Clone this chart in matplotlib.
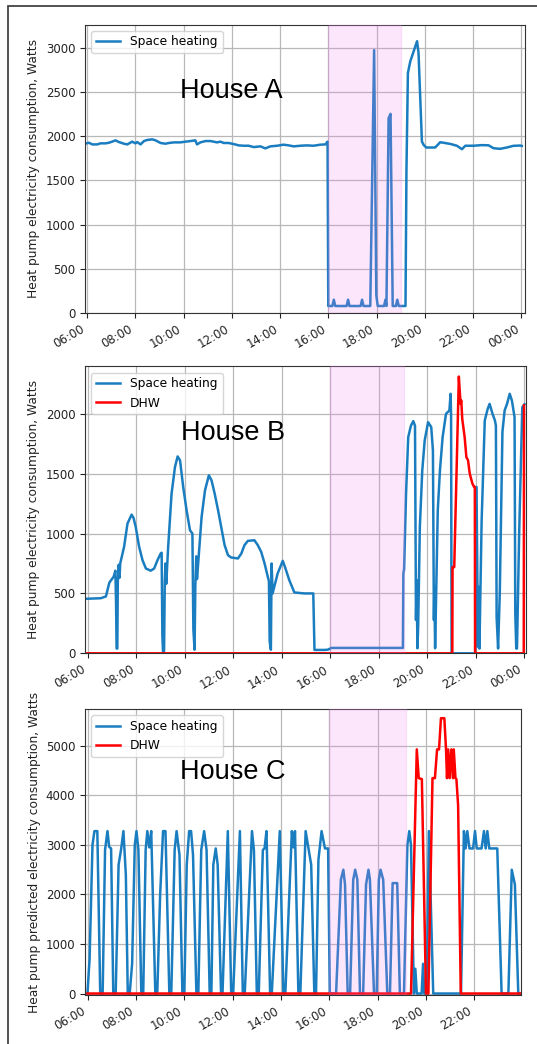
import matplotlib
matplotlib.use("Agg")
import matplotlib.pyplot as plt
from matplotlib.ticker import FuncFormatter, FixedLocator
from matplotlib.patches import Rectangle

# ---------------- data (hours of day, Watts) ----------------
a_time = [5.98, 6.08, 6.22, 6.42, 6.56, 6.77, 6.91, 7.11, 7.18, 7.32, 7.53, 7.67, 7.87, 8.01,
          8.08, 8.22, 8.36, 8.49, 8.70, 8.84, 9.05, 9.25, 9.39, 9.60, 9.87, 10.08, 10.29, 10.49,
          10.56, 10.70, 10.91, 11.12, 11.39, 11.53, 11.67, 11.87, 12.08, 12.29, 12.50, 12.70,
          12.91, 13.19, 13.39, 13.60, 13.88, 14.15, 14.36, 14.57, 14.84, 15.12, 15.39, 15.67,
          15.88, 15.97,
          16.00, 16.17, 16.23, 16.29, 16.76, 16.82, 16.88, 17.34, 17.40, 17.46, 17.74, 17.90,
          17.99, 18.05, 18.31, 18.37, 18.41, 18.50, 18.58, 18.67, 18.80, 18.86, 18.92, 19.20,
          19.24, 19.30, 19.40, 19.54, 19.68, 19.74, 19.88, 19.95, 20.06, 20.43, 20.64, 21.05,
          21.33, 21.54, 21.68, 22.02, 22.36, 22.64, 22.85, 23.12, 23.40, 23.67, 23.95, 24.02]
a_space = [1917, 1924, 1905, 1905, 1917, 1917, 1924, 1943, 1951, 1932, 1913, 1905, 1936, 1917,
           1932, 1905, 1943, 1955, 1962, 1951, 1921, 1913, 1921, 1928, 1928, 1936, 1943, 1951,
           1905, 1928, 1943, 1943, 1928, 1936, 1921, 1921, 1909, 1894, 1890, 1890,
           1875, 1883, 1860, 1883, 1890, 1902, 1894, 1883, 1890, 1894, 1890, 1902,
           1905, 1936,
           79, 79, 150, 79, 79, 150, 79, 79, 150, 79, 79, 2970,
           200, 79, 79, 150, 79, 2200, 2250, 79, 79, 150, 79, 79,
           1617, 2712, 2845, 2958, 3071, 2940, 1938, 1900, 1870, 1870, 1930, 1911,
           1890, 1851, 1890, 1890, 1897, 1895, 1862, 1855, 1870, 1889, 1892, 1888]

b_time = [5.90, 6.53, 6.74, 6.88, 7.06, 7.13, 7.16, 7.18, 7.21, 7.23, 7.27, 7.30, 7.33, 7.49,
          7.63, 7.80, 7.88, 7.97, 8.11, 8.25, 8.39, 8.59, 8.73, 8.87, 9.00, 9.04, 9.07, 9.10,
          9.14, 9.17, 9.20, 9.23, 9.31, 9.45, 9.59, 9.70, 9.80, 9.93, 10.07, 10.21, 10.31, 10.35,
          10.40, 10.43, 10.47, 10.50, 10.69, 10.83, 10.99, 11.10, 11.23, 11.37, 11.50, 11.64,
          11.78, 11.91, 12.19, 12.33, 12.46, 12.60, 12.87, 13.01, 13.15, 13.29, 13.42, 13.47,
          13.50, 13.55, 13.58, 13.62, 13.83, 14.04, 14.13, 14.31, 14.52, 14.93, 15.30, 15.35,
          15.76, 15.90, 16.05, 19.00, 19.02, 19.05, 19.13, 19.22, 19.33, 19.43, 19.50, 19.54,
          19.57, 19.60, 19.63, 19.70, 19.80, 19.90, 20.04, 20.17, 20.24, 20.28, 20.30, 20.33,
          20.44, 20.53, 20.64, 20.78, 20.92, 20.97, 20.99, 21.01, 21.99, 22.01, 22.04, 22.10,
          22.13, 22.16, 22.25, 22.38, 22.50, 22.58, 22.70, 22.80, 22.84, 22.87, 22.93, 23.00,
          23.11, 23.20, 23.30, 23.41, 23.50, 23.61, 23.64, 23.68, 23.71, 23.80, 23.93, 24.02]
b_space = [455, 460, 475, 590, 640, 690, 400, 40, 40, 600, 740, 630, 750, 890,
           1083, 1158, 1130, 1055, 890, 778, 708, 690, 708, 778, 833, 840, 150, 0,
           20, 600, 750, 580, 890, 1333, 1555, 1644, 1611, 1389, 1194, 1028, 1000, 200,
           30, 550, 810, 620, 1139, 1361, 1486, 1444, 1333, 1194, 1055, 903,
           819, 800, 792, 833, 903, 939, 944, 903, 847, 750, 639, 600,
           100, 30, 750, 500, 667, 772, 722, 611, 508, 500, 500, 28,
           28, 30, 45, 45, 667, 700, 1333, 1805, 1900, 1939, 1900, 278,
           611, 42, 222, 1055, 1528, 1778, 1930, 1889, 1694, 278, 555, 42,
           1194, 1528, 1805, 2000, 2028, 2167, 1972, 0, 0, 1389, 1389, 55,
           555, 40, 1100, 1944, 2040, 2083, 2000, 1944, 1900, 300, 40, 500,
           1850, 2028, 2083, 2167, 2111, 1972, 333, 40, 40, 1000, 2055, 2080]
b_dhw_time = [5.90, 21.04, 21.05, 21.12, 21.31, 21.38, 21.41, 21.45, 21.55, 21.62, 21.69,
              21.76, 21.87, 21.94, 21.97, 21.98, 23.99, 24.00]
b_dhw = [0, 0, 720, 720, 2311, 2083, 2111, 1958, 1805, 1639, 1611,
         1500, 1417, 1389, 1389, 0, 0, 2070]

c_time = [5.99, 6.08, 6.20, 6.28, 6.40, 6.52, 6.62, 6.72, 6.82, 6.89, 6.97, 7.06, 7.16, 7.28,
          7.38, 7.48, 7.58, 7.66, 7.74, 7.84, 7.95, 8.02, 8.10, 8.22, 8.30, 8.40, 8.47, 8.55,
          8.63, 8.80, 8.88, 9.00, 9.12, 9.22, 9.38, 9.46, 9.60, 9.68, 9.80, 9.92, 10.00, 10.10,
          10.20, 10.28, 10.36, 10.50, 10.58, 10.70, 10.82, 10.92, 11.05, 11.12, 11.20, 11.30,
          11.38, 11.52, 11.58, 11.80, 11.94, 12.02, 12.30, 12.42, 12.50, 12.80, 12.88, 13.00,
          13.08, 13.25, 13.32, 13.40, 13.55, 13.62, 13.95, 14.10, 14.18, 14.45, 14.52, 14.58,
          14.72, 14.80, 15.02, 15.15, 15.25, 15.38, 15.45, 15.55, 15.68, 15.82, 15.95, 16.02,
          16.28, 16.48, 16.58, 16.65, 16.76, 16.86, 16.99, 17.07, 17.16, 17.27, 17.40, 17.52,
          17.62, 17.68, 17.85, 17.96, 18.05, 18.12, 18.23, 18.40, 18.51, 18.62, 18.81, 18.92,
          19.09, 19.23, 19.31, 19.38, 19.50, 19.56, 19.62, 19.82, 19.88, 19.93, 20.03, 20.12,
          20.30, 21.45, 21.57, 21.64, 21.71, 21.80, 21.95, 22.03, 22.10, 22.30, 22.40, 22.47,
          22.54, 22.62, 22.95, 23.13, 23.41, 23.55, 23.68, 23.82, 23.92]
c_space = [0, 700, 3000, 3280, 3280, 0, 0, 2900, 3280, 2960, 2930, 0, 0, 2600,
           2900, 3280, 2400, 0, 0, 600, 3000, 3280, 2900, 0, 0, 2900, 3280, 2950,
           3280, 0, 0, 2000, 3280, 3280, 0, 0, 2900, 3280, 2800, 0, 0, 2600,
           3280, 3280, 2800, 0, 0, 2900, 3280, 2900, 0, 0, 2600, 2930,
           2600, 0, 0, 3280, 0, 0, 3280, 0, 0, 3280, 2900, 0,
           0, 2900, 2930, 3280, 0, 0, 3280, 0, 0, 3280, 2950, 3280,
           0, 0, 3280, 2900, 2600, 0, 0, 2700, 3280, 2930, 2930, 0,
           0, 2300, 2500, 2200, 0, 0, 2300, 2500, 2300, 0, 0, 2200,
           2500, 2300, 0, 0, 2300, 2500, 2300, 0, 0, 2230, 2230, 0,
           0, 3000, 3280, 3000, 0, 500, 0, 0, 600, 0, 0, 3280,
           0, 0, 3280, 2930, 3280, 2930, 2930, 3280, 2930, 2930, 3280, 2930,
           3280, 2930, 2930, 0, 0, 2500, 2200, 0, 0]
c_dhw_time = [5.99, 19.38, 19.62, 19.70, 19.83, 20.00, 20.10, 20.27, 20.37, 20.46, 20.54,
              20.62, 20.76, 20.83, 20.87, 20.92, 20.98, 21.05, 21.12, 21.15, 21.22, 21.26,
              21.33, 21.44, 23.92]
c_dhw = [0, 0, 4930, 4350, 4330, 0, 0, 4350, 4350, 4930, 4930,
         5560, 5560, 4930, 4350, 4930, 4350, 4930, 4350, 4930, 4350, 4330,
         3800, 0, 0]

house_labels = ["House A", "House B", "House C"]
ylabels = ["Heat pump electricity consumption, Watts",
           "Heat pump electricity consumption, Watts",
           "Heat pump predicted electricity consumption, Watts"]

# ---------------- styling ----------------
W, H = 537, 1044
BLUE = "#1a7dc0"
RED = "#ff0000"

fig = plt.figure(figsize=(W / 100, H / 100), dpi=100)


def box(l, t, r, b):
    return [l / W, 1 - b / H, (r - l) / W, (b - t) / H]


fmt = FuncFormatter(lambda v, p: f"{int(round(v)) % 24:02d}:00")

panels = [
    dict(rect=box(85, 24.5, 525, 313), xlim=(5.917, 24.153), ylim=(0, 3260),
         yticks=range(0, 3001, 500), xticks=range(6, 25, 2), span=(16.0, 19.01),
         text_y=2430, sh=(a_time, a_space), dhw=None),
    dict(rect=box(85, 366.5, 525.7, 653.3), xlim=(5.876, 24.07), ylim=(0, 2395),
         yticks=range(0, 2001, 500), xticks=range(6, 25, 2), span=(16.0, 19.03),
         text_y=1778, sh=(b_time, b_space), dhw=(b_dhw_time, b_dhw)),
    dict(rect=box(85, 709.3, 520.7, 995), xlim=(5.89, 23.92), ylim=(-30, 5740),
         yticks=range(0, 5001, 1000), xticks=range(6, 23, 2), span=(16.0, 19.17),
         text_y=4333, sh=(c_time, c_space), dhw=(c_dhw_time, c_dhw)),
]

for i, p in enumerate(panels):
    ax = fig.add_axes(p["rect"])
    ax.plot(p["sh"][0], p["sh"][1], color=BLUE, lw=1.8, label="Space heating", zorder=2)
    if p["dhw"] is not None:
        ax.plot(p["dhw"][0], p["dhw"][1], color=RED, lw=1.8, label="DHW", zorder=2.5)
    ax.axvspan(p["span"][0], p["span"][1], color="violet", alpha=0.2, lw=1, zorder=3)
    ax.set_xlim(*p["xlim"])
    ax.set_ylim(*p["ylim"])
    ax.xaxis.set_major_locator(FixedLocator(list(p["xticks"])))
    ax.xaxis.set_major_formatter(fmt)
    ax.set_yticks(list(p["yticks"]))
    ax.grid(True, color="#b8b8b8", lw=0.9)
    ax.set_axisbelow(True)
    ax.tick_params(labelsize=8.5, colors="#222222")
    for lab in ax.get_xticklabels():
        lab.set_rotation(30)
        lab.set_ha("right")
    for s in ax.spines.values():
        s.set_color("#333333")
    ax.set_ylabel(ylabels[i], fontsize=8.8, color="#222222")
    ax.yaxis.set_label_coords(-0.102, 0.5)
    ax.legend(loc="upper left", fontsize=8.8, framealpha=0.8)
    ax.text(12.0, p["text_y"], house_labels[i], fontsize=19.5, ha="center", va="baseline",
            family=["Liberation Sans", "DejaVu Sans"], color="black", zorder=5)

# outer frame of the figure
fig.add_artist(Rectangle((7.7 / W, -0.05), 1.1, 1 - 5.7 / H + 0.05, transform=fig.transFigure,
                         fill=False, edgecolor="#444444", lw=1.3, clip_on=False))

fig.savefig("out.png", dpi=100, facecolor="white")
